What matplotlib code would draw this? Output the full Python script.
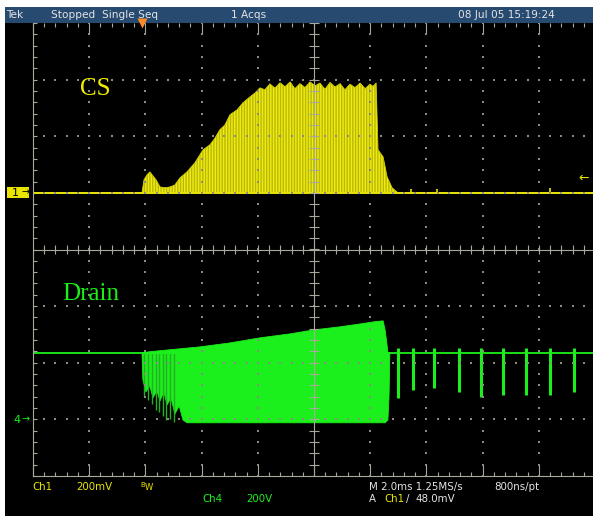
import matplotlib
matplotlib.use("Agg")
import matplotlib.pyplot as plt
import numpy as np
from matplotlib.patches import Rectangle
from matplotlib.ticker import MultipleLocator

W, H = 593, 516

# time axis: ms from screen centre, 2 ms/div
# Ch1 (CS), 200 mV/div, ground 1 div above centre
cs_t = [-10.0, -6.12, -6.05, -5.94, -5.84, -5.73, -5.62, -5.48, -5.30, -5.12, -4.95,
        -4.77, -4.52, -4.24, -3.95, -3.70, -3.52, -3.35, -3.17, -2.99, -2.74, -2.53,
        -2.28, -2.10, -1.92, -1.75, -1.57, -1.39, -1.21, -1.03, -0.85, -0.68, -0.50,
        -0.32, -0.14, 0.04, 0.21, 0.39, 0.57, 0.75, 0.93, 1.10, 1.28, 1.46, 1.64,
        1.82, 1.99, 2.10, 2.21, 2.28, 2.46, 2.60, 2.78, 2.99, 10.0]
cs_mv = [0, 0, 46, 64, 74, 60, 46, 21, 18, 21, 28,
         53, 74, 106, 152, 170, 194, 223, 240, 276, 293, 318,
         339, 353, 371, 364, 385, 370, 389, 375, 392, 368, 386,
         372, 392, 378, 388, 366, 390, 374, 386, 364, 384, 372, 388,
         368, 384, 376, 388, 152, 127, 57, 18, 0, 0]
cs_blip_t = [3.45, 4.38, 8.40]
cs_blip_mv = [14, 14, 18]

# Ch4 (Drain), 200 V/div, ground 3 div below centre
drain_off_v = 235
drain_up_t = [-6.12, -5.84, -5.12, -4.06, -2.99, -1.92, -0.85, 0.0, 0.93, 1.64, 2.17,
              2.46, 2.53, 2.60, 2.63]
drain_up_v = [235, 239, 246, 256, 270, 288, 302, 316, 327, 337, 345,
              348, 316, 263, 235]
drain_lo_t = [-6.12, -6.09, -5.98, -5.84, -5.73, -5.59, -5.48, -5.34, -5.23, -5.09,
              -4.95, -4.80, -4.66, -4.52, 2.53, 2.63, 2.67, 2.70]
drain_lo_v = [235, 140, 97, 118, 76, 101, 65, 97, 51, 76,
              19, 48, -2, -12, -12, -2, 80, 235]
ring_t = [-6.05, -5.91, -5.77, -5.62, -5.52, -5.37, -5.27, -5.12, -4.98]
ring_v = [83, 69, 55, 34, 27, 12, -2, 2, -9]
spike_t = [2.99, 3.52, 4.27, 5.16, 5.94, 6.73, 7.54, 8.40, 9.25]
spike_v = [76, 104, 111, 97, 80, 87, 87, 87, 97]
spike_top_v = 253

header = [("Tek", 6), ("Stopped  Single Seq", 51), ("1 Acqs", 231), ("08 Jul 05 15:19:24", 458)]

YEL = "#e8e400"
GRN = "#1cf01c"
GRID = "#a8a89c"
TXT = "#e4e4e4"


def fx(px):
    return px / W


def fy(py):
    return 1 - py / H


def rect(x0, y0, x1, y1, color):
    fig.add_artist(Rectangle((fx(x0), fy(y1)), (x1 - x0) / W, (y1 - y0) / H,
                             transform=fig.transFigure, fc=color, ec="none", zorder=-5))


def ch1(mv):
    return 1 + np.asarray(mv) / 200.0


def ch4(v):
    return -3 + np.asarray(v) / 200.0


fig = plt.figure(figsize=(W / 100, H / 100), dpi=100)
fig.patch.set_facecolor("white")
rect(5, 23, 593, 516, "black")
rect(5, 7, 593, 23, "#264a70")

ax = fig.add_axes([fx(33), fy(476), 562 / W, 453 / H])
ax.set_facecolor("none")
ax.set_xlim(-10, 10)
ax.set_ylim(-4, 4)

# graticule
for side in ("top", "right"):
    ax.spines[side].set_visible(False)
for side in ("left", "bottom"):
    ax.spines[side].set_color(GRID)
    ax.spines[side].set_linewidth(0.8)
    ax.spines[side].set_zorder(6)
ax.xaxis.set_major_locator(MultipleLocator(2))
ax.xaxis.set_minor_locator(MultipleLocator(0.4))
ax.yaxis.set_major_locator(MultipleLocator(1))
ax.yaxis.set_minor_locator(MultipleLocator(0.2))
ax.tick_params(which="both", direction="in", colors=GRID, width=0.8,
               labelbottom=False, labelleft=False, top=True, right=False, zorder=6)
ax.tick_params(axis="x", which="major", length=8)
ax.tick_params(axis="x", which="minor", length=2.6)
ax.tick_params(axis="y", which="both", length=3.2)

minor_x = np.arange(-10, 10.01, 0.4)
minor_y = np.arange(-4, 4.01, 0.2)
major_x = [-8, -6, -4, -2, 2, 4, 6, 8]
major_y = [-3, -2, -1, 1, 2, 3]
gx, gy = np.meshgrid(major_x, minor_y)
ax.scatter(gx.ravel(), gy.ravel(), s=0.9, marker="s", c="#8c8c84", lw=0, zorder=6)
gx, gy = np.meshgrid(minor_x, major_y)
ax.scatter(gx.ravel(), gy.ravel(), s=0.9, marker="s", c="#8c8c84", lw=0, zorder=6)
ax.axhline(0, color=GRID, lw=0.8, zorder=6)
ax.axvline(0, color=GRID, lw=0.8, zorder=6)
ax.vlines(minor_x, -0.088, 0.088, color=GRID, lw=0.8, zorder=6)
ax.hlines(minor_y, -0.18, 0.18, color=GRID, lw=0.8, zorder=6)

# CS trace
plt.rcParams["hatch.linewidth"] = 1.0
ax.fill_between(cs_t, ch1(0), ch1(cs_mv), facecolor="#bcb800", edgecolor="#eeec18",
                hatch="||||||", lw=0, zorder=2)
ax.plot(cs_t, ch1(cs_mv), color="#d2ce00", lw=0.6, zorder=2)
ax.plot([-10, 10], ch1([0, 0]), color=YEL, lw=1.4, zorder=3)
ax.vlines(cs_blip_t, ch1(0), ch1(cs_blip_mv), color=YEL, lw=1.2, zorder=3)

# Drain trace
poly_t = np.r_[drain_up_t, drain_lo_t[::-1]]
poly_v = np.r_[drain_up_v, drain_lo_v[::-1]]
ax.fill(poly_t, ch4(poly_v), color=GRN, lw=0.6, zorder=2)
ax.vlines(ring_t, ch4(ring_v), ch4(drain_off_v), color="#24b024", lw=1.0, zorder=2)
ax.plot([-10, 10], ch4([drain_off_v, drain_off_v]), color=GRN, lw=1.3, zorder=3)
ax.vlines(spike_t, ch4(spike_v), ch4(spike_top_v), color=GRN, lw=2.2, zorder=3)

# trigger position and level markers
ax.plot([-6.12], [4], marker="v", ms=7, color="#ff8a2a", mec="none", clip_on=False, zorder=7)
fig.text(fx(584), fy(178), "←", color=YEL, fontsize=9, ha="center", va="center")

# channel markers
rect(7, 187, 29, 198, YEL)
fig.text(fx(12), fy(192.5), "1", color="black", fontsize=8, va="center", ha="left")
fig.text(fx(22), fy(192.5), "→", color="black", fontsize=7, va="center", ha="left")
fig.text(fx(13), fy(420), "4", color=GRN, fontsize=8, va="center", ha="left")
fig.text(fx(21), fy(419.5), "→", color=GRN, fontsize=7, va="center", ha="left")

# labels on screen
fig.text(fx(80), fy(89), "CS", color="#f2ee00", fontsize=18, family="Liberation Serif",
         va="center", ha="left")
fig.text(fx(62), fy(294), "Drain", color="#18f018", fontsize=18, family="Liberation Serif",
         va="center", ha="left")

# header
for s, x in header:
    fig.text(fx(x), fy(15), s, color=TXT, fontsize=7.6, va="center", ha="left")

# footer
foot = [("Ch1", 32, 487, YEL), ("200mV", 76, 487, YEL), ("Ch4", 202, 499, GRN),
        ("200V", 246, 499, GRN), ("M 2.0ms 1.25MS/s", 369, 487, TXT), ("800ns/pt", 494, 487, TXT),
        ("A", 369, 499, TXT), ("Ch1", 384, 499, YEL), ("/", 406, 499, TXT), ("48.0mV", 415, 499, TXT)]
for s, x, y, c in foot:
    fig.text(fx(x), fy(y), s, color=c, fontsize=7.4, va="center", ha="left")
fig.text(fx(140), fy(485), "B", color=YEL, fontsize=5, va="center", ha="left")
fig.text(fx(145), fy(488), "W", color=YEL, fontsize=6, va="center", ha="left")

fig.savefig("out.png", dpi=100, facecolor="white")
